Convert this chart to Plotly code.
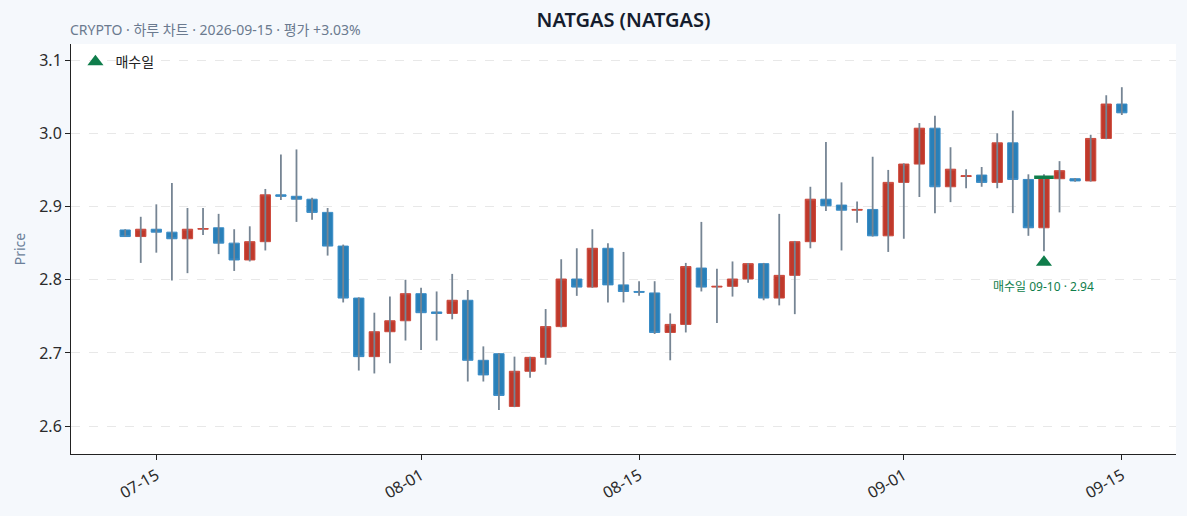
import pandas as pd
import plotly.graph_objects as go

dates = pd.date_range("2026-07-13", "2026-09-15", freq="D").strftime("%Y-%m-%d").tolist()

opens = [2.868, 2.859, 2.869, 2.865, 2.856, 2.869, 2.871, 2.850, 2.827, 2.852,
         2.916, 2.914, 2.910, 2.892, 2.846, 2.775, 2.695, 2.729, 2.744, 2.781,
         2.756, 2.754, 2.772, 2.690, 2.699, 2.627, 2.675, 2.694, 2.736, 2.801,
         2.790, 2.843, 2.793, 2.784, 2.782, 2.728, 2.739, 2.816, 2.790, 2.791,
         2.801, 2.822, 2.775, 2.806, 2.852, 2.910, 2.902, 2.895, 2.896, 2.860,
         2.933, 2.958, 3.007, 2.927, 2.941, 2.943, 2.933, 2.987, 2.937, 2.871,
         2.938, 2.938, 2.935, 2.993, 3.040]
highs = [2.869, 2.886, 2.903, 2.932, 2.898, 2.898, 2.890, 2.869, 2.873, 2.924,
         2.971, 2.978, 2.912, 2.898, 2.848, 2.776, 2.755, 2.777, 2.800, 2.789,
         2.784, 2.808, 2.786, 2.709, 2.700, 2.695, 2.695, 2.760, 2.828, 2.843,
         2.869, 2.850, 2.838, 2.798, 2.798, 2.754, 2.823, 2.879, 2.815, 2.825,
         2.823, 2.823, 2.890, 2.853, 2.927, 2.988, 2.933, 2.907, 2.968, 2.950,
         2.959, 3.014, 3.024, 2.981, 2.951, 2.954, 3.000, 3.031, 2.944, 2.944,
         2.962, 2.939, 2.998, 3.052, 3.063]
lows = [2.859, 2.823, 2.837, 2.799, 2.809, 2.861, 2.835, 2.812, 2.825, 2.840,
        2.909, 2.879, 2.882, 2.833, 2.769, 2.676, 2.672, 2.686, 2.717, 2.704,
        2.717, 2.746, 2.661, 2.661, 2.622, 2.626, 2.666, 2.684, 2.735, 2.778,
        2.789, 2.769, 2.769, 2.778, 2.726, 2.690, 2.728, 2.784, 2.741, 2.777,
        2.796, 2.772, 2.765, 2.753, 2.843, 2.894, 2.840, 2.878, 2.859, 2.838,
        2.856, 2.913, 2.891, 2.906, 2.925, 2.927, 2.925, 2.891, 2.860, 2.839,
        2.892, 2.934, 2.934, 2.992, 3.025]
closes = [2.859, 2.869, 2.865, 2.856, 2.869, 2.870, 2.850, 2.827, 2.852, 2.916,
          2.914, 2.910, 2.892, 2.846, 2.775, 2.695, 2.729, 2.744, 2.781, 2.755,
          2.754, 2.772, 2.690, 2.670, 2.642, 2.675, 2.694, 2.736, 2.801, 2.790,
          2.843, 2.793, 2.784, 2.783, 2.728, 2.739, 2.818, 2.790, 2.791, 2.801,
          2.822, 2.775, 2.806, 2.852, 2.910, 2.901, 2.895, 2.896, 2.860, 2.933,
          2.958, 3.007, 2.927, 2.951, 2.942, 2.933, 2.987, 2.937, 2.871, 2.940,
          2.949, 2.935, 2.993, 3.040, 3.028]

buy_date = "2026-09-10"
buy_price = 2.94
buy_marker_y = 2.824
xtick_vals = ["2026-07-15", "2026-08-01", "2026-08-15", "2026-09-01", "2026-09-15"]
xtick_text = ["07-15", "08-01", "08-15", "09-01", "09-15"]

title_text = "NATGAS (NATGAS)"
subtitle_text = "CRYPTO · 하루 차트 · 2026-09-15 · 평가 +3.03%"

FONT = "Noto Sans, Noto Sans CJK KR, sans-serif"
RED = "#c0392b"
BLUE = "#2980b9"
WICK = "#768594"
GREEN = "#0f7d4b"
TICK_COLOR = "#2b2b2b"

# wick segments
wx, wy = [], []
for d, h, l in zip(dates, highs, lows):
    wx += [d, d, None]
    wy += [h, l, None]

body_hi = [max(o, c) for o, c in zip(opens, closes)]
body_lo = [min(o, c) for o, c in zip(opens, closes)]

fig = go.Figure()
fig.add_trace(go.Scatter(x=wx, y=wy, mode="lines", line=dict(color=WICK, width=1.8),
                         showlegend=False, hoverinfo="skip"))
fig.add_trace(go.Candlestick(
    x=dates, open=opens, high=body_hi, low=body_lo, close=closes,
    increasing=dict(line=dict(color="#cc4a3d", width=1), fillcolor=RED),
    decreasing=dict(line=dict(color="#3a8cc6", width=1), fillcolor=BLUE),
    whiskerwidth=0, showlegend=False, hoverinfo="skip"))
fig.add_trace(go.Scatter(x=[buy_date], y=[buy_price], mode="markers",
                         marker=dict(symbol="line-ew-open", size=14, color=GREEN,
                                     line=dict(color=GREEN, width=3.5)),
                         showlegend=False, hoverinfo="skip"))
fig.add_trace(go.Scatter(x=[buy_date], y=[buy_marker_y], mode="markers", name="매수일",
                         marker=dict(symbol="triangle-up", size=14, color=GREEN)))

fig.add_annotation(x=buy_date, y=buy_marker_y, yshift=-24, text="매수일 09-10 · 2.94",
                   showarrow=False, font=dict(family=FONT, size=12, color=GREEN))
fig.add_annotation(xref="paper", yref="paper", x=0, y=1, xanchor="left", yanchor="bottom",
                   yshift=3, xshift=-3, text=subtitle_text, showarrow=False,
                   font=dict(family=FONT, size=14, color="#6b7a8f"))

fig.update_layout(
    width=1187, height=516,
    margin=dict(l=71, r=11, t=44, b=62),
    paper_bgcolor="#f5f8fc", plot_bgcolor="#ffffff",
    title=dict(text=title_text, x=0.5, xref="paper", y=0.961, yanchor="middle",
               font=dict(family=FONT, size=20, color="#151d2e", weight=600)),
    font=dict(family=FONT, size=16, color=TICK_COLOR),
    boxgap=0.34, boxgroupgap=0,
    showlegend=True,
    legend=dict(x=0.004, y=0.995, xanchor="left", yanchor="top", bgcolor="rgba(0,0,0,0)",
                font=dict(family=FONT, size=14, color="#222")),
    hovermode=False,
)
fig.update_xaxes(
    type="date", range=["2026-07-09 12:30", "2026-09-18 11:30"],
    tickvals=xtick_vals, ticktext=xtick_text, tickangle=-30,
    showgrid=False, showline=True, linecolor="#222", linewidth=1,
    ticks="outside", ticklen=5, tickcolor="#222",
    rangeslider=dict(visible=False), tickfont=dict(size=16, color=TICK_COLOR),
)
fig.update_yaxes(
    range=[2.562, 3.122], dtick=0.1, tickformat=".1f",
    showgrid=True, gridcolor="#e8e8e8", griddash="dash", gridwidth=1,
    showline=True, linecolor="#222", linewidth=1, zeroline=False,
    ticks="outside", ticklen=5, tickcolor="#222",
    title=dict(text="Price", font=dict(size=14, color="#6b7f99"), standoff=10),
    tickfont=dict(size=16, color=TICK_COLOR),
)

fig.write_html("out.html", config={"displayModeBar": False},
               post_script="document.body.style.margin='0px';")
